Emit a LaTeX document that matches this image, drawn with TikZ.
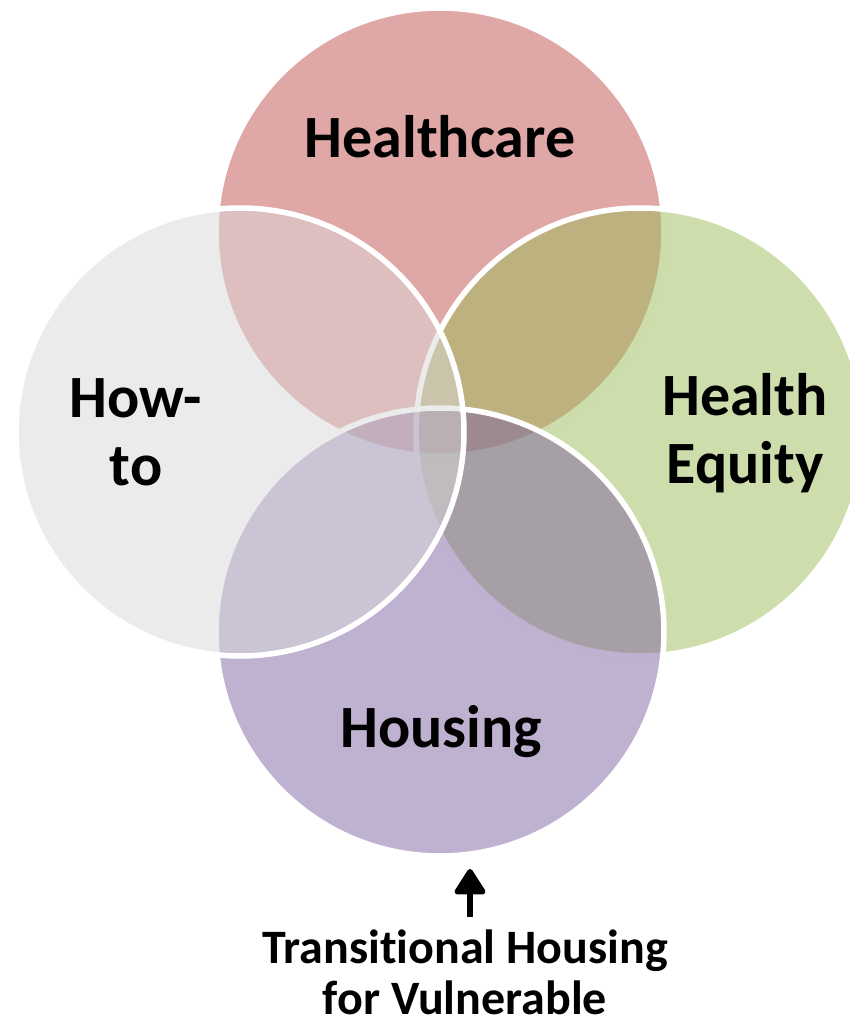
\documentclass[tikz,border=0pt]{standalone}
\usepackage{fontspec}
\setmainfont{Carlito}[Ligatures=NoCommon, RawFeature={-liga;-clig;-dlig}]
\usetikzlibrary{arrows.meta}

\definecolor{hcred}{HTML}{C0504D}
\definecolor{heqgreen}{HTML}{9BBB59}
\definecolor{houspurple}{HTML}{8064A2}
\definecolor{howgray}{HTML}{D8D8D8}

\tikzset{
  venn/.style={circle, minimum size=448pt, inner sep=0pt, outer sep=0pt,
    draw=white, line width=5.5pt, fill opacity=0.5, draw opacity=1},
  biglabel/.style={inner sep=0pt, font=\fontsize{60}{68}\selectfont\bfseries, align=center},
  smalllabel/.style={inner sep=0pt, font=\fontsize{48}{53}\selectfont\bfseries, align=center},
}

\begin{document}
\begin{tikzpicture}[x=1pt, y=-1pt]
  \useasboundingbox (0,0) rectangle (850,1021);

  % four overlapping circles, later ones drawn over earlier ones
  \node[venn, fill=hcred]      (healthcare) at (440,232) {};
  \node[venn, fill=heqgreen]   (equity)     at (640,432) {};
  \node[venn, fill=houspurple] (housing)    at (440,632) {};
  \node[venn, fill=howgray]    (howto)      at (240,432) {};

  % circle labels
  \node[biglabel, anchor=base] (lhc) at (440,157) {Healthcare};
  \node[biglabel, anchor=base] (lhow) at (136,417) {How-};
  \node[biglabel, anchor=base] (lto) at (136,485) {to};
  \node[biglabel, anchor=base] (lhealth) at (745,415) {Health};
  \node[biglabel, anchor=base] (lequity) at (745,483) {Equity};
  \node[biglabel, anchor=base] (lhousing) at (441,747) {Housing};

  % note under the housing circle
  \coordinate (arrS) at (470,917);
  \coordinate (arrE) at (470,869);
  \draw[line width=5.5pt, -{Triangle[length=28pt, width=34pt, round]}] (arrS) -- (arrE);

  \node[smalllabel, anchor=base] (lnote1) at (465,963) {Transitional Housing};
  \node[smalllabel, anchor=base] (lnote2) at (465,1014) {for Vulnerable};
\end{tikzpicture}
\end{document}
